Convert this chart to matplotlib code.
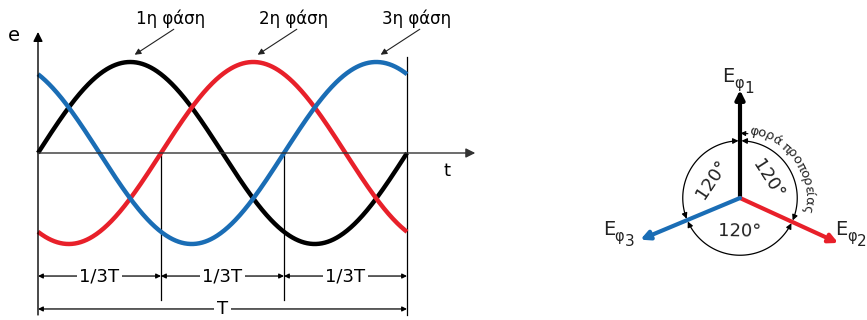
import numpy as np
import matplotlib.pyplot as plt
from matplotlib.patches import FancyArrowPatch
from matplotlib.path import Path
from matplotlib.textpath import TextToPath
from matplotlib.font_manager import FontProperties

plt.rcParams['font.family'] = ['DejaVu Sans']

# waveforms
phase_labels = ['1η φάση', '2η φάση', '3η φάση']
phase_shift_deg = [0, 120, 240]
phase_colors = ['#000000', '#e8202a', '#1a6db5']
period_labels = ['1/3T', '1/3T', '1/3T']
total_label = 'T'

# phasor diagram
phasor_subs = ['1', '2', '3']
phasor_angles = [90, -24.6, 202.7]
angle_label = '120°'
rotation_text = 'φορά προπορείας'

fig = plt.figure(figsize=(8.67, 3.2), dpi=100)

# ---------------- left: e(t) ----------------
ax = fig.add_axes([0, 0, 480 / 867, 1])
ax.set_xlim(-38 / 369, 442 / 369)
ax.set_ylim(-167 / 91, 153 / 91)
ax.axis('off')

t = np.linspace(0, 1, 500)
for shift, c in zip(phase_shift_deg, phase_colors):
    ax.plot(t, np.sin(2 * np.pi * t - np.deg2rad(shift)), color=c, lw=3.2,
            solid_capstyle='butt', zorder=3)

# axes with arrows
ax.annotate('', xy=(0, 1.33), xytext=(0, -1.78),
            arrowprops=dict(arrowstyle='-|>', color='black', lw=1,
                            mutation_scale=14, shrinkA=0, shrinkB=0))
ax.annotate('', xy=(1.185, 0), xytext=(0, 0),
            arrowprops=dict(arrowstyle='-|>', color='#333333', lw=1,
                            mutation_scale=14, shrinkA=0, shrinkB=0))
ax.text(-0.065, 1.29, 'e', fontsize=14, ha='center', va='center')
ax.text(1.108, -0.2, 't', fontsize=13, ha='center', va='center')

# period markers
ax.plot([1, 1], [1.055, -1.78], color='black', lw=0.9)
for k in (1, 2):
    ax.plot([k / 3, k / 3], [0, -1.615], color='black', lw=0.9)

for k, lab in enumerate(period_labels):
    x0, x1 = k / 3, (k + 1) / 3
    ax.annotate('', xy=(x1, -1.352), xytext=(x0, -1.352),
                arrowprops=dict(arrowstyle='<|-|>', color='black', lw=0.9,
                                mutation_scale=7, shrinkA=0, shrinkB=0))
    ax.text((x0 + x1) / 2, -1.352, lab, fontsize=13, ha='center', va='center',
            bbox=dict(facecolor='white', edgecolor='none', pad=2), zorder=4)

ax.annotate('', xy=(1, -1.714), xytext=(0, -1.714),
            arrowprops=dict(arrowstyle='<|-|>', color='black', lw=0.9,
                            mutation_scale=7, shrinkA=0, shrinkB=0))
ax.text(0.5, -1.714, total_label, fontsize=13, ha='center', va='center',
        bbox=dict(facecolor='white', edgecolor='none', pad=2), zorder=4)

# phase labels with pointers to the peaks
for shift, lab in zip(phase_shift_deg, phase_labels):
    peak = 0.25 + shift / 360
    ax.text(peak + 0.108, 1.48, lab, fontsize=12, ha='center', va='center')
    ax.annotate('', xy=(peak + 0.012, 1.08), xytext=(peak + 0.118, 1.36),
                arrowprops=dict(arrowstyle='-|>', color='#222222', lw=0.8,
                                mutation_scale=9, shrinkA=0, shrinkB=0))

# ---------------- right: phasors ----------------
ax2 = fig.add_axes([560 / 867, 0, 307 / 867, 1])
ax2.set_xlim(-180 / 108, 127 / 108)
ax2.set_ylim(-122 / 108, 198 / 108)
ax2.axis('off')

for ang, c in zip(phasor_angles, phase_colors):
    a = np.deg2rad(ang)
    ax2.annotate('', xy=(np.cos(a), np.sin(a)), xytext=(0, 0),
                 arrowprops=dict(arrowstyle='-|>', color=c, lw=3,
                                 mutation_scale=13, shrinkA=0, shrinkB=0),
                 zorder=3)

label_pos = [(-0.167, 1.074), (0.88, -0.343), (-1.27, -0.343)]
for sub, (x, y) in zip(phasor_subs, label_pos):
    ax2.text(x, y, 'E', fontsize=14, ha='left', va='baseline', color='#222222')
    ax2.annotate('φ', xy=(x, y), xytext=(8.5, -4), textcoords='offset points',
                 fontsize=10.5, ha='left', va='baseline', color='#222222')
    ax2.annotate(sub, xy=(x, y), xytext=(16, -8), textcoords='offset points',
                 fontsize=11, ha='left', va='baseline', color='#222222')

# 120 degree arcs
r_arc = 0.53
spans = [(phasor_angles[0], phasor_angles[1]),
         (phasor_angles[1], phasor_angles[2] - 360),
         (phasor_angles[2] - 360, phasor_angles[0] - 360)]
for a0, a1 in spans:
    th = np.deg2rad(np.linspace(a0 - 1.5, a1 + 1.5, 80))
    path = Path(np.column_stack([r_arc * np.cos(th), r_arc * np.sin(th)]))
    ax2.add_patch(FancyArrowPatch(path=path, arrowstyle='<|-|>', color='black',
                                  lw=0.9, mutation_scale=8, shrinkA=0, shrinkB=0))
    mid = (a0 + a1) / 2
    rot = mid - 90
    while rot <= -90:
        rot += 180
    while rot > 90:
        rot -= 180
    m = np.deg2rad(mid)
    ax2.text(0.31 * np.cos(m), 0.31 * np.sin(m), angle_label, fontsize=13,
             ha='center', va='center', rotation=rot, color='#222222')

# curved text along the rotation direction
fp = FontProperties(family='DejaVu Sans', size=9.5)
ttp = TextToPath()
r_txt = 0.6
theta = np.deg2rad(82)
for ch in rotation_text:
    w = ttp.get_text_width_height_descent(ch, fp, ismath=False)[0]
    dth = (w * 100 / 72 / 108) / r_txt * 0.93
    tc = theta - dth / 2
    ax2.text(r_txt * np.cos(tc), r_txt * np.sin(tc), ch, fontproperties=fp,
             ha='center', va='baseline', rotation=np.rad2deg(tc) - 90,
             rotation_mode='anchor', color='#222222')
    theta -= dth

th = np.deg2rad([83, 89.5])
ax2.annotate('', xy=(0.6 * np.cos(th[1]), 0.6 * np.sin(th[1])),
             xytext=(0.6 * np.cos(th[0]), 0.6 * np.sin(th[0])),
             arrowprops=dict(arrowstyle='-|>', color='black', lw=0.8,
                             mutation_scale=7, shrinkA=0, shrinkB=0))

fig.savefig('out.png', dpi=100)
